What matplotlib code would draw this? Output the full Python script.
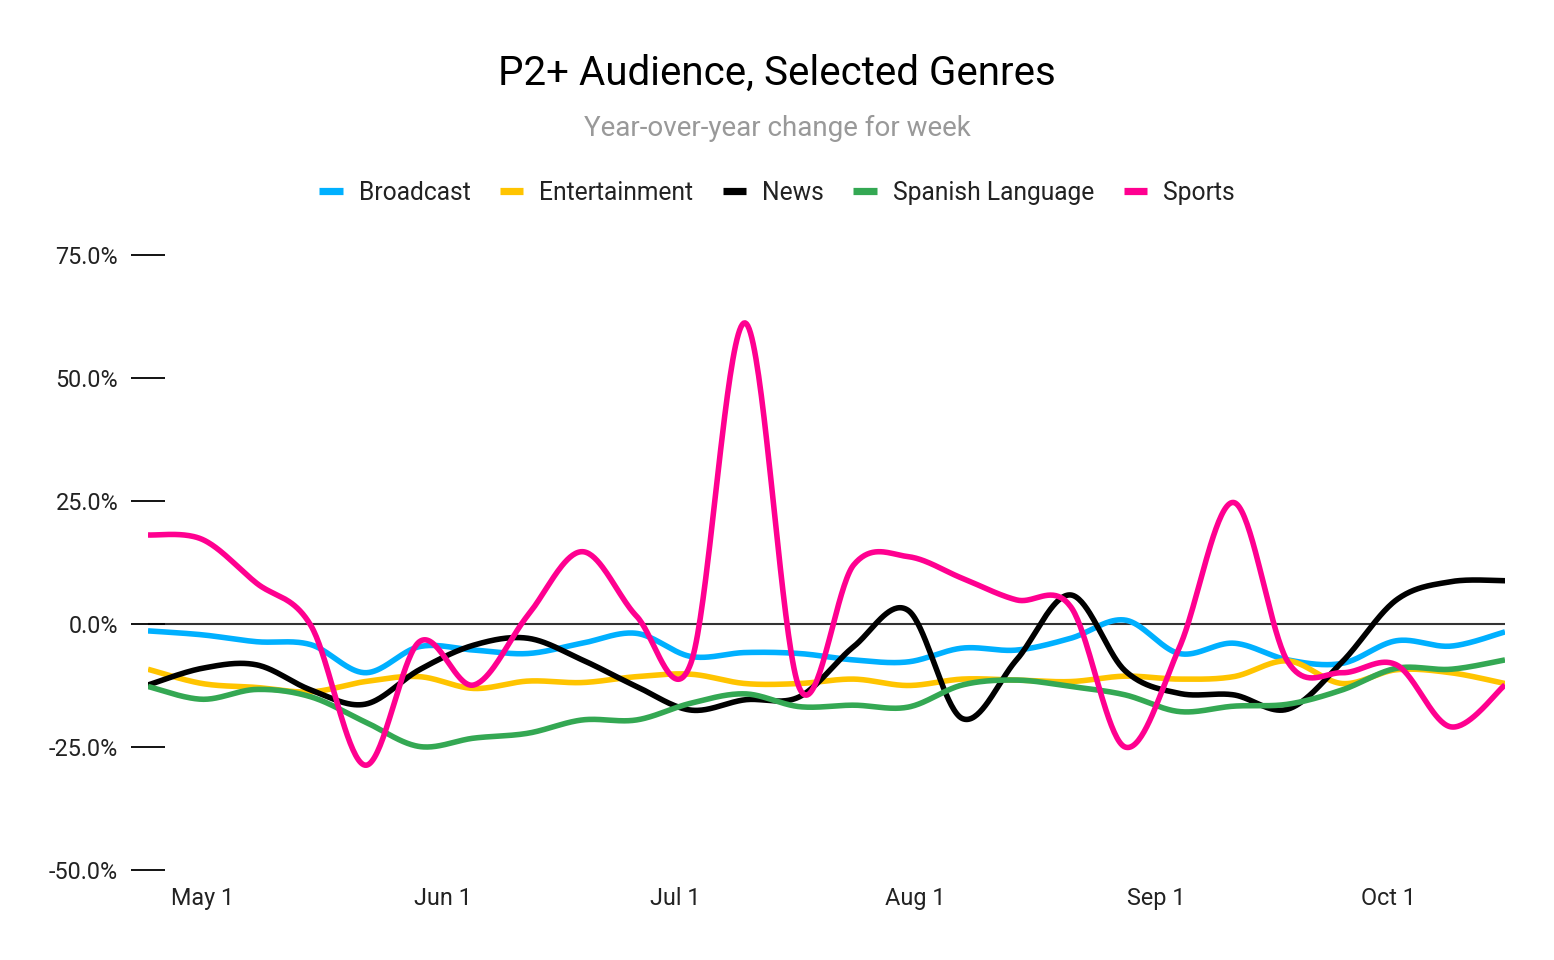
import numpy as np
import pandas as pd
import matplotlib
matplotlib.use("Agg")
import matplotlib.pyplot as plt
import matplotlib.dates as mdates
from matplotlib.lines import Line2D

plt.rcParams['font.family'] = ['Roboto', 'DejaVu Sans']

weeks = pd.date_range('2021-04-24', periods=26, freq='7D')

series_names = ["Broadcast", "Entertainment", "News", "Spanish Language", "Sports"]
series_colors = ["#00B0FF", "#FFC400", "#000000", "#34A853", "#FF0090"]

broadcast = [-1.4, -2.2, -3.6, -4.2, -9.9, -4.6, -5.3, -6.0, -3.9, -1.9, -6.6, -5.8, -6.0,
             -7.3, -7.7, -4.9, -5.3, -2.9, 0.8, -6.0, -3.9, -7.3, -8.0, -3.4, -4.5, -1.6]
entertainment = [-9.2, -12.1, -12.9, -13.8, -11.7, -10.7, -13.1, -11.6, -11.9, -10.7, -10.2, -12.1, -12.1,
                 -11.2, -12.5, -11.2, -11.4, -11.7, -10.6, -11.2, -10.7, -7.5, -12.1, -9.3, -9.9, -12.1]
news = [-12.4, -9.0, -8.3, -13.4, -16.3, -9.3, -4.3, -2.9, -7.3, -12.7, -17.5, -15.4, -14.8,
        -4.6, 2.8, -19.2, -7.3, 5.9, -9.5, -14.1, -14.4, -17.3, -7.7, 4.9, 8.6, 8.8]
spanish = [-12.7, -15.3, -13.3, -14.8, -19.9, -24.9, -23.2, -22.2, -19.5, -19.5, -16.1, -14.2, -16.8,
           -16.5, -16.9, -12.4, -11.4, -12.7, -14.4, -17.8, -16.7, -16.3, -13.4, -9.0, -9.2, -7.3]
sports = [18.1, 17.2, 8.3, -0.3, -28.7, -3.6, -12.4, 1.8, 14.7, 1.6, -8.0, 61.2, -13.0,
          12.0, 13.7, 9.3, 4.9, 3.5, -25.0, -4.8, 24.7, -7.7, -9.9, -8.3, -20.9, -12.4]
all_series = [broadcast, entertainment, news, spanish, sports]

yticks = [-50, -25, 0, 25, 50, 75]
xtick_dates = pd.to_datetime(['2021-05-01', '2021-06-01', '2021-07-01', '2021-08-01', '2021-09-01', '2021-10-01'])
xtick_labels = ["May 1", "Jun 1", "Jul 1", "Aug 1", "Sep 1", "Oct 1"]


def smooth(x, y, n=40):
    x = np.asarray(x, float)
    y = np.asarray(y, float)
    pts = np.column_stack([x, y])
    ext = np.vstack([pts[0], pts, pts[-1]])
    out = []
    for i in range(len(pts) - 1):
        p0, p1, p2, p3 = ext[i], ext[i + 1], ext[i + 2], ext[i + 3]
        c1 = p1 + (p2 - p0) / 6.0
        c2 = p2 - (p3 - p1) / 6.0
        t = np.linspace(0, 1, n, endpoint=(i == len(pts) - 2))[:, None]
        seg = ((1 - t) ** 3) * p1 + 3 * ((1 - t) ** 2) * t * c1 + 3 * (1 - t) * t ** 2 * c2 + t ** 3 * p2
        out.append(seg)
    out = np.vstack(out)
    return out[:, 0], out[:, 1]


fig = plt.figure(figsize=(15.54, 9.6), dpi=100)
ax = fig.add_axes([148 / 1554, 90 / 960, (1505 - 148) / 1554, (870 - 255) / 960])

xnum = mdates.date2num(weeks)
ax.axhline(0, color="#333333", lw=1.5, zorder=1)
for vals, col in zip(all_series, series_colors):
    sx, sy = smooth(xnum, vals)
    ax.plot(sx, sy, color=col, lw=4.0, solid_capstyle='butt', zorder=3)

ax.set_xlim(xnum[0], xnum[-1])
ax.set_ylim(-50, 75)
ax.set_yticks(yticks)
ax.set_yticklabels([f"{v:.1f}%" for v in yticks])
ax.set_xticks(mdates.date2num(xtick_dates))
ax.set_xticklabels(xtick_labels)
for s in ax.spines.values():
    s.set_visible(False)
ax.tick_params(axis='y', direction='inout', length=25, width=1.3, color='#000000',
               labelsize=16.8, labelcolor='#222222', pad=9)
ax.tick_params(axis='x', length=0, labelsize=16.8, labelcolor='#222222', pad=12)

fig.text(0.5, 1 - 73 / 960, "P2+ Audience, Selected Genres", ha='center', va='center',
         fontsize=29, color='#000000')
fig.text(0.5, 1 - 128 / 960, "Year-over-year change for week", ha='center', va='center',
         fontsize=20, color='#999999')

handles = [Line2D([0], [0], color=c, lw=5.2, solid_capstyle='butt') for c in series_colors]
fig.legend(handles, series_names, loc='center', bbox_to_anchor=(0.5, 1 - 193 / 960), ncol=5,
           frameon=False, fontsize=17.7, handlelength=0.95, handletextpad=0.65, columnspacing=1.2,
           labelcolor='#222222')

fig.savefig("out.png", dpi=100)
